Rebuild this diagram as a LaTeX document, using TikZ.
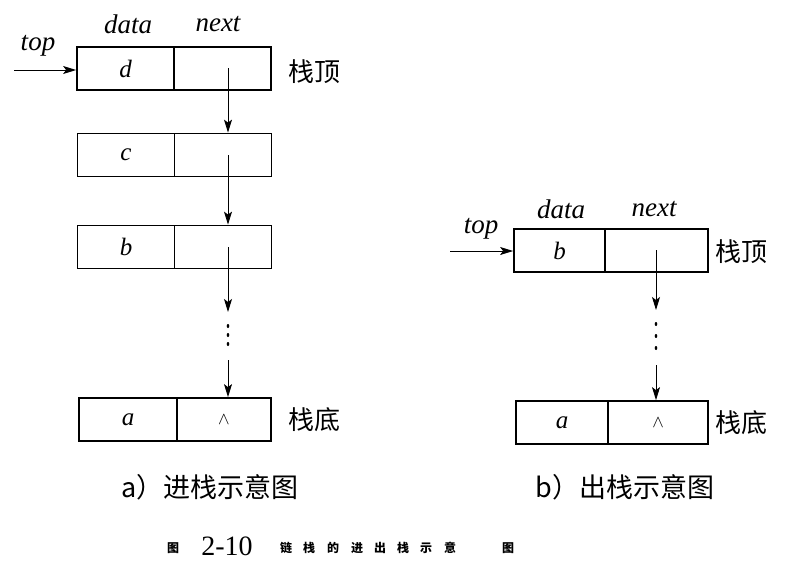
\documentclass[tikz,border=0pt]{standalone}
\usepackage{fontspec}
\setmainfont{Liberation Serif}
\newfontfamily\cjk{Noto Sans CJK SC}
\usetikzlibrary{arrows.meta,shapes.geometric}
\tikzset{
  cell/.style={draw, line width=1.8pt, minimum height=43pt, inner sep=0pt, font=\fontsize{25}{25}\selectfont\itshape},
  lbl/.style={font=\fontsize{27}{27}\selectfont\itshape, inner sep=0pt},
  cn/.style={font=\cjk\fontsize{26}{26}\selectfont, inner sep=0pt},
  captxt/.style={font=\cjk\fontsize{27}{27}\selectfont, inner sep=0pt},
  tinytxt/.style={font=\cjk\bfseries\fontsize{12}{12}\selectfont, inner sep=0pt},
  ptr/.style={line width=0.9pt, -{Stealth[length=13pt,width=8pt,inset=3pt]}},
  vdot/.style={ellipse, fill=black, inner sep=0pt, minimum width=2.6pt, minimum height=4pt}
}
\begin{document}
\begin{tikzpicture}[x=1pt,y=-1pt]
\useasboundingbox (0,0) rectangle (786,573);
% ---------- left (a) ----------
\node[cell, minimum width=97pt] (dD) at (125.5,68.5) {d};
\node[cell, minimum width=97pt] (dN) at (222.5,68.5) {};
\node[cell, minimum width=97pt] (cD) at (126,155) {c};
\node[cell, minimum width=97pt] (cN) at (223,155) {};
\node[cell, minimum width=97pt] (bD) at (126,247) {b};
\node[cell, minimum width=97pt] (bN) at (223,247) {};
\node[cell, minimum width=98pt] (aD) at (128,419.5) {a};
\node[cell, minimum width=94pt, font=\fontsize{18}{18}\selectfont] (aN) at (224,419.5) {$\wedge$};
\node[lbl] (ldata) at (128,24) {data};
\node[lbl] (lnext) at (218,24) {next};
\node[lbl] (ltop) at (38,46) {top};
\coordinate (ltopS) at (14,70);
\draw[ptr] (ltopS) -- (dD.west |- ltopS);
\node[cn] (ltopcn) at (314,72) {栈顶};
\node[cn] (lbotcn) at (314,420) {栈底};
\coordinate (l1) at (228,68);
\coordinate (l2) at (228,155);
\coordinate (l3) at (228,247);
\coordinate (l4) at (228,312);
\coordinate (l5) at (228,360);
\draw[ptr] (l1) -- (l1 |- cN.north);
\draw[ptr] (l2) -- (l2 |- bN.north);
\draw[ptr] (l3) -- (l4);
\node[vdot] (ld1) at (228,326) {};
\node[vdot] (ld2) at (228,335) {};
\node[vdot] (ld3) at (228,344) {};
\draw[ptr] (l5) -- (l5 |- aN.north);
\node[captxt] (capA) at (210,487) {a）进栈示意图};
% ---------- right (b) ----------
\node[cell, minimum width=91pt] (rbD) at (559.5,250.5) {b};
\node[cell, minimum width=103pt] (rbN) at (656.5,250.5) {};
\node[cell, minimum width=92pt] (raD) at (562,422.5) {a};
\node[cell, minimum width=100pt, font=\fontsize{18}{18}\selectfont] (raN) at (658,422.5) {$\wedge$};
\node[lbl] (rdata) at (561,209) {data};
\node[lbl] (rnext) at (654,209) {next};
\node[lbl] (rtop) at (481,229) {top};
\coordinate (rtopS) at (450,251);
\draw[ptr] (rtopS) -- (rbD.west |- rtopS);
\node[cn] (rtopcn) at (741,252) {栈顶};
\node[cn] (rbotcn) at (741,423) {栈底};
\coordinate (r1) at (656,250);
\coordinate (r2) at (656,310);
\coordinate (r3) at (656,365);
\draw[ptr] (r1) -- (r2);
\node[vdot] (rd1) at (656,324) {};
\node[vdot] (rd2) at (656,336) {};
\node[vdot] (rd3) at (656,348) {};
\draw[ptr] (r3) -- (r3 |- raN.north);
\node[captxt] (capB) at (625,487) {b）出栈示意图};
% ---------- caption ----------
\node[tinytxt] (f0) at (173,548) {图};
\node[font=\fontsize{28}{28}\selectfont, inner sep=0pt] (fnum) at (227,546) {2-10};
\node[tinytxt] (f1) at (286,548) {链};
\node[tinytxt] (f2) at (309,548) {栈};
\node[tinytxt] (f3) at (333,548) {的};
\node[tinytxt] (f4) at (357,548) {进};
\node[tinytxt] (f5) at (380,548) {出};
\node[tinytxt] (f6) at (403,548) {栈};
\node[tinytxt] (f7) at (426,548) {示};
\node[tinytxt] (f8) at (450,548) {意};
\node[tinytxt] (f9) at (508,548) {图};
\end{tikzpicture}
\end{document}
